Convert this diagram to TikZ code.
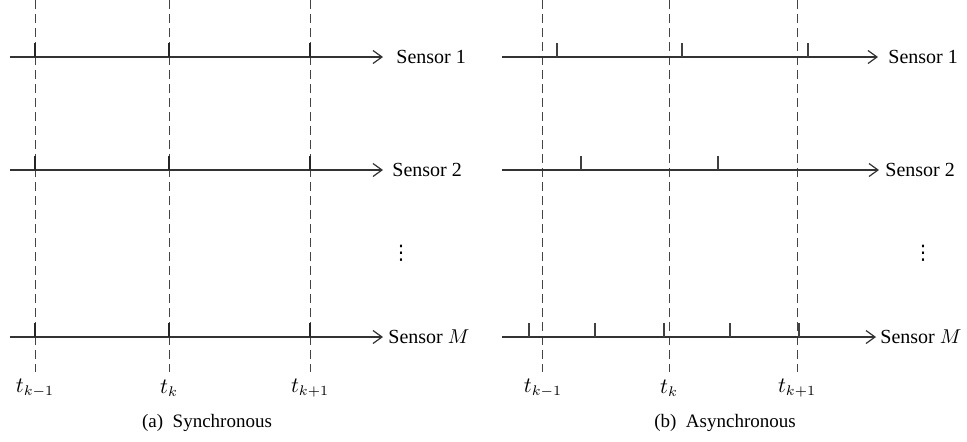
\documentclass[tikz,border=0pt]{standalone}
\usepackage{fontspec}
\setmainfont{Liberation Serif}
\newfontfamily\symfont{DejaVu Sans}
\usetikzlibrary{arrows.meta}
\definecolor{axisgray}{HTML}{333333}
\definecolor{dashgray}{HTML}{444444}
\begin{document}
\begin{tikzpicture}[x=0.5pt,y=-0.5pt,
  axis/.style={draw=axisgray, line width=0.6pt, -{Straight Barb[length=4.5pt,width=6.5pt,line width=0.6pt]}},
  gridline/.style={draw=dashgray, line width=0.5pt, dash pattern=on 4.5pt off 2.5pt},
  synctick/.style={draw=black!85, line width=1.1pt},
  asynctick/.style={draw=black!75, line width=0.6pt},
  lab/.style={anchor=west, inner ysep=0pt, inner xsep=#1, font=\fontsize{10}{12}\selectfont},
  tlab/.style={inner sep=1pt, font=\fontsize{10.5}{12}\selectfont},
  dotlab/.style={inner sep=0pt, font=\symfont\fontsize{10}{12}\selectfont},
  captext/.style={font=\fontsize{9.5}{12}\selectfont}]
\useasboundingbox (0,0) rectangle (967,441);

% ---------- (a) Synchronous ----------
\coordinate (a1s) at (10,57);
\coordinate (a2s) at (10,170);
\coordinate (aMs) at (10,337);
\node[lab=6.5pt] (a1) at (383,57) {Sensor 1};
\node[lab=4.5pt] (a2) at (383,170) {Sensor 2};
\node[lab=2.5pt] (aM) at (383,337) {Sensor $M$};
\node[dotlab] (adots) at (401,253) {⋮};

\node[tlab] (at1) at (35,388) {$t_{k-1}$};
\node[tlab] (at2) at (169,388) {$t_k$};
\node[tlab] (at3) at (310,388) {$t_{k+1}$};
\coordinate (ag1) at (35,0);
\coordinate (ag2) at (169,0);
\coordinate (ag3) at (310,0);
\draw[gridline] (ag1) -- (35,372);
\draw[gridline] (ag2) -- (169,372);
\draw[gridline] (ag3) -- (310,372);

\draw[axis] (a1s) -- (a1.west);
\draw[axis] (a2s) -- (a2.west);
\draw[axis] (aMs) -- (aM.west);

\foreach \x in {35,169,310}{
  \draw[synctick] (\x,57) -- (\x,43);
  \draw[synctick] (\x,170) -- (\x,156);
  \draw[synctick] (\x,337) -- (\x,323);
}
\node[captext] (capa) at (207,423) {(a)\ \ Synchronous};

% ---------- (b) Asynchronous ----------
\coordinate (b1s) at (502,57);
\coordinate (b2s) at (502,170);
\coordinate (bMs) at (502,337);
\node[lab=5pt] (b1) at (878,57) {Sensor 1};
\node[lab=3pt] (b2) at (879,170) {Sensor 2};
\node[lab=2pt] (bM) at (876,337) {Sensor $M$};
\node[dotlab] (bdots) at (923,253) {⋮};

\node[tlab] (bt1) at (543,388) {$t_{k-1}$};
\node[tlab] (bt2) at (669,388) {$t_k$};
\node[tlab] (bt3) at (797,388) {$t_{k+1}$};
\coordinate (bg1) at (542,0);
\coordinate (bg2) at (669,0);
\coordinate (bg3) at (797,0);
\draw[gridline] (bg1) -- (542,372);
\draw[gridline] (bg2) -- (669,372);
\draw[gridline] (bg3) -- (797,372);

\draw[axis] (b1s) -- (b1.west);
\draw[axis, line width=0.8pt] (b2s) -- (b2.west);
\draw[axis] (bMs) -- (bM.west);

\foreach \x in {557,682,808}{\draw[asynctick] (\x,57) -- (\x,43);}
\foreach \x in {581,718}{\draw[asynctick] (\x,170) -- (\x,156);}
\foreach \x in {529,595,664,730,799}{\draw[asynctick] (\x,337) -- (\x,323);}
\node[captext] (capb) at (725,423) {(b)\ \ Asynchronous};
\end{tikzpicture}
\end{document}
